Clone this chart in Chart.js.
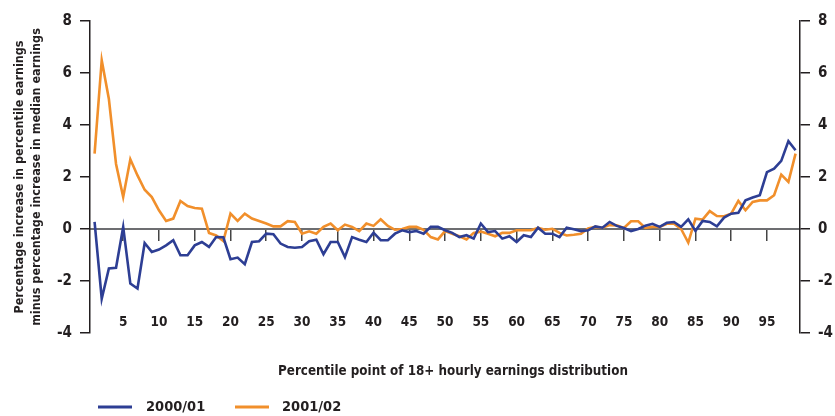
<!DOCTYPE html>
<html><head><meta charset="utf-8">
<script src="https://cdn.jsdelivr.net/npm/chart.js@4"></script>
<style>html,body{margin:0;padding:0;background:#fff}#wrap{width:835px;height:416px;position:relative}</style>
</head><body><div id="wrap"><canvas id="c" width="835" height="416"></canvas></div>
<script>
const percentiles = Array.from({length: 99}, (_, i) => i + 1);
const series2000 = [0.27,-2.68,-1.52,-1.49,0.08,-2.1,-2.29,-0.54,-0.88,-0.79,
  -0.63,-0.43,-1.01,-1.01,-0.63,-0.5,-0.69,-0.31,-0.32,-1.16,
  -1.1,-1.35,-0.5,-0.47,-0.18,-0.2,-0.56,-0.69,-0.72,-0.69,
  -0.47,-0.41,-0.97,-0.5,-0.5,-1.08,-0.31,-0.41,-0.5,-0.14,
  -0.43,-0.43,-0.18,-0.05,-0.12,-0.08,-0.18,0.08,0.08,-0.05,
  -0.15,-0.31,-0.24,-0.37,0.21,-0.12,-0.08,-0.37,-0.28,-0.5,
  -0.24,-0.31,0.05,-0.18,-0.18,-0.31,0.05,-0.01,-0.08,-0.05,
  0.1,0.05,0.27,0.12,0.04,-0.08,0,0.13,0.2,0.08,
  0.24,0.27,0.08,0.37,-0.07,0.31,0.27,0.1,0.44,0.59,
  0.62,1.1,1.21,1.3,2.19,2.32,2.62,3.38,3.03];
const series2001 = [2.9,6.49,5.0,2.5,1.23,2.68,2.06,1.51,1.23,0.72,
  0.31,0.4,1.08,0.88,0.81,0.78,-0.15,-0.25,-0.46,0.59,
  0.31,0.59,0.4,0.31,0.21,0.1,0.1,0.3,0.27,-0.18,
  -0.09,-0.18,0.08,0.21,-0.05,0.17,0.08,-0.08,0.21,0.12,
  0.37,0.12,-0.03,0,0.08,0.08,-0.03,-0.31,-0.4,-0.08,
  -0.18,-0.28,-0.4,-0.15,-0.1,-0.18,-0.28,-0.15,-0.15,-0.05,
  -0.05,-0.05,0.04,-0.03,0.01,-0.15,-0.25,-0.22,-0.18,0.02,
  0.08,0.05,0.15,0.14,0.04,0.3,0.3,0.04,0.08,0.08,
  0.2,0.2,0,-0.52,0.4,0.36,0.69,0.5,0.49,0.59,
  1.08,0.72,1.04,1.1,1.1,1.3,2.09,1.81,2.9];
const seriesLabels = ['2000/01', '2001/02'];
const xTickValues = [5,10,15,20,25,30,35,40,45,50,55,60,65,70,75,80,85,90,95];
const yTickValues = [-4,-2,0,2,4,6,8];
const yTitleLines = ['Percentage increase in percentile earnings', 'minus percentage increase in median earnings'];
const xTitleText = 'Percentile point of 18+ hourly earnings distribution';

const FONT = "'Liberation Sans Narrow','Arial Narrow','DejaVu Sans Condensed',sans-serif";
const INK = '#231f20';
const BLUE = '#2d3e94';
const ORANGE = '#f18f2b';

const toPoints = vals => percentiles.map((p, i) => ({x: p, y: vals[i]}));
const setTicks = vals => s => { s.ticks = vals.map(v => ({value: v})); };

const extras = {
  id: 'extras',
  afterDraw(chart) {
    const ctx = chart.ctx;
    ctx.save();
    ctx.fillStyle = INK;
    ctx.font = 'bold 13.3px ' + FONT;
    ctx.textAlign = 'center';
    ctx.textBaseline = 'middle';
    ctx.fillText(xTitleText, 453, 372);
    const lx = [98, 235], tx = [146, 282];
    ctx.font = 'bold 14.5px ' + FONT;
    ctx.textAlign = 'left';
    chart.data.datasets.forEach((ds, i) => {
      ctx.strokeStyle = ds.borderColor;
      ctx.lineWidth = 3;
      ctx.beginPath();
      ctx.moveTo(lx[i], 407);
      ctx.lineTo(lx[i] + 34, 407);
      ctx.stroke();
      ctx.fillStyle = INK;
      ctx.fillText(ds.label, tx[i], 407);
    });
    ctx.restore();
  }
};

new Chart(document.getElementById('c'), {
  type: 'line',
  data: {
    datasets: [
      {label: seriesLabels[0], data: toPoints(series2000), borderColor: BLUE, backgroundColor: BLUE, borderWidth: 2.6, pointRadius: 0, tension: 0, xAxisID: 'x', yAxisID: 'y'},
      {label: seriesLabels[1], data: toPoints(series2001), borderColor: ORANGE, backgroundColor: ORANGE, borderWidth: 2.6, pointRadius: 0, tension: 0, xAxisID: 'x', yAxisID: 'y'}
    ]
  },
  options: {
    responsive: false,
    animation: false,
    devicePixelRatio: 1,
    layout: {padding: {top: 21, bottom: 83, left: 0, right: 0}},
    plugins: {legend: {display: false}, tooltip: {enabled: false}},
    scales: {
      x: {
        type: 'linear', min: 0.36, max: 99.62,
        position: {y: 0},
        afterBuildTicks: setTicks(xTickValues),
        grid: {drawOnChartArea: false, drawTicks: true, tickLength: 11, color: '#444', lineWidth: 1.5},
        border: {display: true, color: '#6d6e71', width: 2},
        ticks: {display: false}
      },
      x2: {
        type: 'linear', axis: 'x', min: 0.36, max: 99.62,
        position: {y: -3.3},
        afterBuildTicks: setTicks(xTickValues),
        grid: {display: false, drawTicks: false},
        border: {display: false},
        ticks: {font: {family: FONT, size: 13.5, weight: 'bold'}, color: INK, padding: 0, maxRotation: 0, autoSkip: false}
      },
      y: {
        type: 'linear', min: -4, max: 8, position: 'left',
        afterBuildTicks: setTicks(yTickValues),
        afterFit: s => { s.width = 90; },
        grid: {drawOnChartArea: false, drawTicks: true, tickLength: 10, color: INK, lineWidth: 1.5},
        border: {display: true, color: INK, width: 1.5},
        ticks: {font: {family: FONT, size: 15, weight: 'bold'}, color: INK, padding: 8},
        title: {display: true, text: yTitleLines, color: INK, font: {family: FONT, size: 12.5, weight: 'bold', lineHeight: 1.3}, padding: {top: 12, bottom: 0}}
      },
      y2: {
        type: 'linear', axis: 'y', min: -4, max: 8, position: 'right',
        afterBuildTicks: setTicks(yTickValues),
        afterFit: s => { s.width = 35; },
        grid: {drawOnChartArea: false, drawTicks: true, tickLength: 10, color: INK, lineWidth: 1.5},
        border: {display: true, color: INK, width: 1.5},
        ticks: {font: {family: FONT, size: 15, weight: 'bold'}, color: INK, padding: 8}
      }
    }
  },
  plugins: [extras]
});
</script>
</body></html>
